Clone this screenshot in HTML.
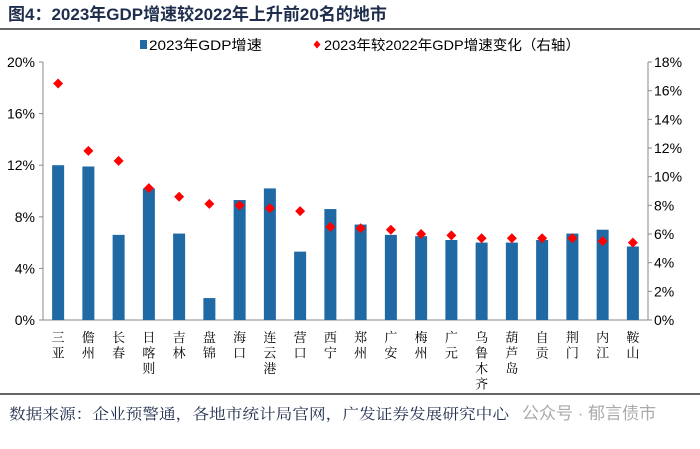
<!DOCTYPE html>
<html><head><meta charset="utf-8"><style>
body{margin:0;width:700px;height:444px;background:#fff;overflow:hidden;font-family:"Liberation Sans","Noto Sans CJK SC",sans-serif}
</style></head><body>
<svg width="700" height="444" xmlns="http://www.w3.org/2000/svg" id="svg">
<text x="8" y="20" font-size="17" font-weight="bold" fill="#1f2d4d" font-family="Liberation Sans,Noto Sans CJK SC,sans-serif">图4：2023年GDP增速较2022年上升前20名的地市</text>
<line x1="0" y1="29" x2="700" y2="29" stroke="#333" stroke-width="1.5"/>
<g font-size="14" fill="#000">
<rect x="140" y="40" width="7" height="9" fill="#1f6aa5"/>
<text x="149" y="50" textLength="113" lengthAdjust="spacingAndGlyphs">2023年GDP增速</text>
<path d="M 317 40.5 L 320.5 44.5 L 317 48.5 L 313.5 44.5 Z" fill="#f00"/>
<text x="324" y="50" textLength="256" lengthAdjust="spacingAndGlyphs">2023年较2022年GDP增速变化（右轴）</text>
</g>
<g id="plot"></g>
<line x1="0" y1="394" x2="700" y2="394" stroke="#333" stroke-width="1.5"/>
<text x="9" y="419" font-size="15" fill="#1f2d4d" textLength="500" lengthAdjust="spacingAndGlyphs" font-family="Noto Serif CJK SC,serif">数据来源：企业预警通，各地市统计局官网，广发证券发展研究中心</text>
<text x="522" y="419" font-size="17" fill="#aaa">公众号 · 郁言债市</text>
</svg>
<script>
const categories=["三亚","儋州","长春","日喀则","吉林","盘锦","海口","连云港","营口","西宁","郑州","广安","梅州","广元","乌鲁木齐","葫芦岛","自贡","荆门","内江","鞍山"];
const gdpGrowth=[12.0,11.9,6.6,10.2,6.7,1.7,9.3,10.2,5.3,8.6,7.4,6.6,6.5,6.2,6.0,6.0,6.2,6.7,7.0,5.7];
const growthChange=[16.5,11.8,11.1,9.2,8.6,8.1,8.0,7.8,7.6,6.5,6.4,6.3,6.0,5.9,5.7,5.7,5.7,5.7,5.5,5.4];
const leftTicks=[0,4,8,12,16,20];
const rightTicks=[0,2,4,6,8,10,12,14,16,18];
const NS="http://www.w3.org/2000/svg";
const g=document.getElementById('plot');
const X0=43,X1=648,Y0=320,Y1=62;
const band=(X1-X0)/categories.length;
const xc=i=>X0+band*(i+0.5);
const yL=v=>Y0-(v/20)*(Y0-Y1);
const yR=v=>Y0-(v/18)*(Y0-Y1);
function mk(t,a){const e=document.createElementNS(NS,t);for(const k in a)e.setAttribute(k,a[k]);g.appendChild(e);return e;}
let e;
e=mk('line',{x1:X0,y1:Y1,x2:X0,y2:Y0,stroke:'#888'});


e=mk('line',{x1:X1,y1:Y1,x2:X1,y2:Y0,stroke:'#888'});


e=mk('line',{x1:X0,y1:Y0,x2:X1,y2:Y0,stroke:'#888'});


leftTicks.forEach(v=>{
 mk('line',{x1:X0-4,y1:yL(v),x2:X0,y2:yL(v),stroke:'#888'});
 e=mk('text',{x:X0-8,y:yL(v)+5,'text-anchor':'end','font-size':14,fill:'#000'});e.textContent=v+'%';
 
 
});
rightTicks.forEach(v=>{
 mk('line',{x1:X1,y1:yR(v),x2:X1+4,y2:yR(v),stroke:'#888'});
 e=mk('text',{x:X1+6,y:yR(v)+5,'font-size':14,fill:'#000'});e.textContent=v+'%';
 
 
});
categories.forEach((c,i)=>{
 const bw=12;
 e=mk('rect',{x:xc(i)-bw/2,y:yL(gdpGrowth[i]),width:bw,height:Y0-yL(gdpGrowth[i]),fill:'#1f6aa5'});
 
 
 const cy=yR(growthChange[i]),cx=xc(i);
 e=mk('path',{d:`M ${cx} ${cy-5} L ${cx+5} ${cy} L ${cx} ${cy+5} L ${cx-5} ${cy} Z`,fill:'#f00'});
 
 
 [...c].forEach((ch,k)=>{
  e=mk('text',{x:cx,y:342+k*15.5,'text-anchor':'middle','font-size':13,fill:'#000','font-family':'Noto Serif CJK SC,serif'});
  e.textContent=ch;
  
  
 });
});
</script>
</body></html>
